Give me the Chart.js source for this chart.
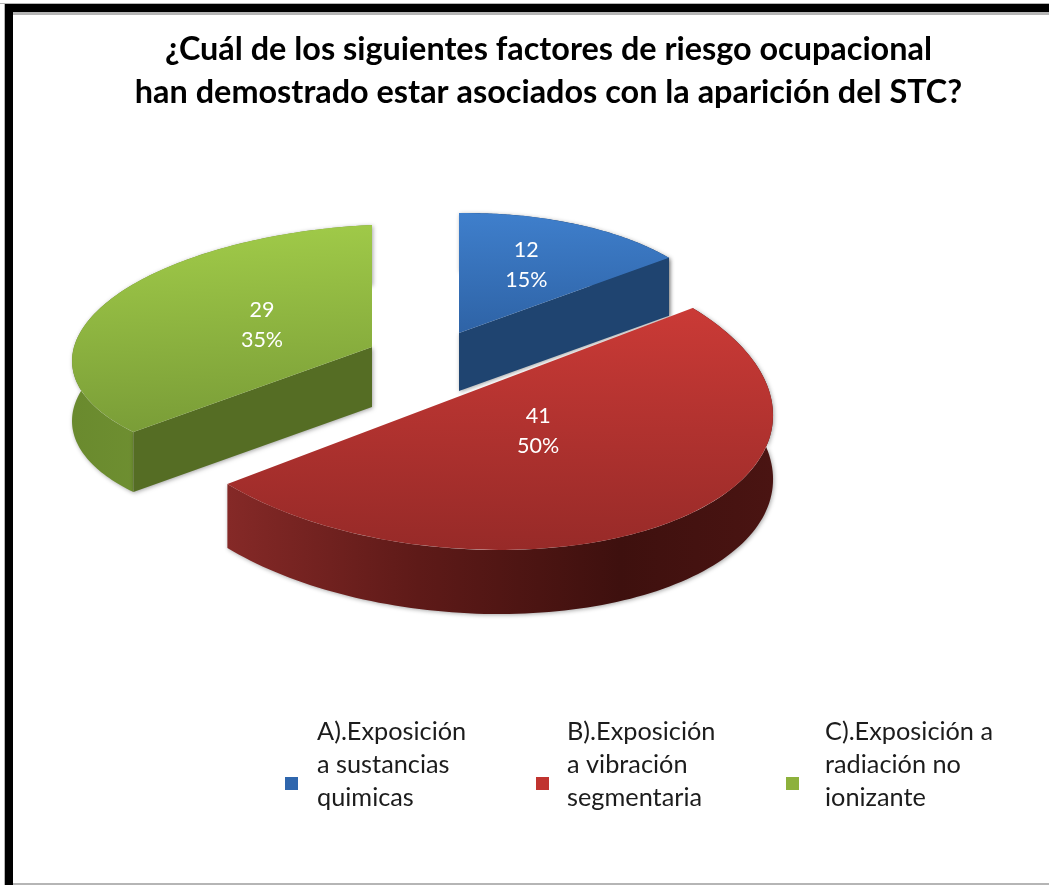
<!DOCTYPE html>
<html><head><meta charset="utf-8">
<script src="https://cdn.jsdelivr.net/npm/chart.js@4"></script>
<style>
html,body{margin:0;padding:0;background:#fff;width:1049px;height:885px;overflow:hidden}
#wrap{position:relative;width:1049px;height:885px}
canvas{position:absolute;left:0;top:0}
.f{position:absolute;background:#000}
.g{position:absolute;background:#b5b5b5}
</style></head><body>
<div id="wrap">
<canvas id="c" width="1049" height="885"></canvas>
<div class="g" style="left:0;top:3px;width:1049px;height:1px"></div>
<div class="f" style="left:5px;top:4px;width:1044px;height:8px"></div>
<div class="g" style="left:13px;top:12px;width:1036px;height:3px"></div>
<div class="g" style="left:4px;top:4px;width:1px;height:881px"></div>
<div class="f" style="left:5px;top:4px;width:8px;height:881px"></div>
<div class="g" style="left:13px;top:883px;width:1036px;height:2px"></div>
</div>
<script>
const titleLines = ["¿Cuál de los siguientes factores de riesgo ocupacional","han demostrado estar asociados con la aparición del STC?"];
const categories = ["A).Exposición a sustancias quimicas","B).Exposición a vibración segmentaria","C).Exposición a radiación no ionizante"];
const legendLines = [["A).Exposición","a sustancias","quimicas"],["B).Exposición","a vibración","segmentaria"],["C).Exposición a","radiación no","ionizante"]];
const values = [12,41,29];
const percents = ["15%","50%","35%"];
const swatch = ["#2f66ad","#c0342f","#8db13c"];

// per-slice projection of the flat pie onto the tilted view (explosion + perspective)
const proj = [
  {c:[459,333],m:[264,0,-3,120],depth:58},
  {c:[460,396],m:[312,25.6,6.7,153.9],depth:64},
  {c:[372,347],m:[300,0,-14,122],depth:60}
];
const topShade = [
  {v:[-1,0],col:["#3f7fcc","#2e63a6"]},
  {v:[-0.6,1],col:["#ca3a36","#972a28"]},
  {v:[-1,0.65],col:["#9fc948","#799c37"]}
];
const faceColor = ["#1f4470","#5a1a18","#556d24"];
const wallStops = [
  [[0,"#2a5a96"],[1,"#1f4470"]],
  [[0,"#852927"],[0.35,"#5e1a18"],[0.72,"#3e100e"],[1,"#4a1412"]],
  [[0,"#6a8a2e"],[1,"#7c9f3a"]]
];
const labelFrac = [0.6,0.33,0.45];
const labelNudge = [[-3,-3],[9,-7],[11,-3]];
const drawOrder = [0,2,1];

function P(i,a,r,dy){
  const p=proj[i],u=Math.cos(a)*r,v=Math.sin(a)*r;
  return [p.c[0]+p.m[0]*u+p.m[1]*v, p.c[1]+p.m[2]*u+p.m[3]*v+(dy||0)];
}
const tilted = {
  id:'tilted',
  beforeDatasetsDraw(chart){
    const ctx=chart.ctx, meta=chart.getDatasetMeta(0);
    drawOrder.forEach(i=>{
      const arc=meta.data[i], s=arc.startAngle, e=arc.endAngle, d=proj[i].depth, R=arc.outerRadius;
      ctx.save();
      ctx.shadowColor='rgba(0,0,0,0.35)';ctx.shadowBlur=4;ctx.shadowOffsetX=1;ctx.shadowOffsetY=1;
      // outer wall
      let minX=1e9,maxX=-1e9;
      const n=120;
      ctx.beginPath();
      for(let k=0;k<=n;k++){const q=P(i,s+(e-s)*k/n,1,0);minX=Math.min(minX,q[0]);maxX=Math.max(maxX,q[0]);k?ctx.lineTo(q[0],q[1]):ctx.moveTo(q[0],q[1]);}
      for(let k=n;k>=0;k--){const q=P(i,s+(e-s)*k/n,1,d);ctx.lineTo(q[0],q[1]);}
      ctx.closePath();
      const wg=ctx.createLinearGradient(minX,0,maxX,0);
      wallStops[i].forEach(t=>wg.addColorStop(t[0],t[1]));
      ctx.fillStyle=wg;ctx.fill();
      // cut faces facing the viewer
      const m=proj[i].m;
      [[s,-1],[e,1]].forEach(([a,sgn])=>{
        const ty=sgn*(-m[2]*Math.sin(a)+m[3]*Math.cos(a));
        if(ty<=0) return;
        const a0=P(i,a,0,0),a1=P(i,a,1,0),a2=P(i,a,1,d),a3=P(i,a,0,d);
        ctx.beginPath();ctx.moveTo(a0[0],a0[1]);ctx.lineTo(a1[0],a1[1]);ctx.lineTo(a2[0],a2[1]);ctx.lineTo(a3[0],a3[1]);ctx.closePath();
        ctx.fillStyle=faceColor[i];ctx.fill();
      });
      ctx.restore();
      // top surface: the library's own arc element under the view transform
      ctx.save();
      ctx.transform(m[0]/R,m[2]/R,m[1]/R,m[3]/R,proj[i].c[0],proj[i].c[1]);
      ctx.translate(-arc.x,-arc.y);
      arc.draw(ctx);
      ctx.restore();
    });
    return false;
  },
  afterDraw(chart){
    const ctx=chart.ctx, meta=chart.getDatasetMeta(0);
    ctx.save();
    ctx.font='21.5px Lato';ctx.fillStyle='#fff';ctx.textAlign='center';ctx.textBaseline='middle';
    meta.data.forEach((arc,i)=>{
      const q=P(i,(arc.startAngle+arc.endAngle)/2,labelFrac[i],0);
      const x=q[0]+labelNudge[i][0], y=q[1]+labelNudge[i][1];
      ctx.fillText(String(values[i]),x,y-15);
      ctx.fillText(percents[i],x,y+15);
    });
    ctx.restore();
    // legend
    ctx.save();
    const lx=[317,567,825], bx=[285,536,786];
    ctx.font='25.3px Lato';ctx.textAlign='left';ctx.textBaseline='middle';
    legendLines.forEach((ls,i)=>{
      ctx.fillStyle='#1c1c1c';
      ls.forEach((t,j)=>ctx.fillText(t,lx[i],732+j*33));
      ctx.fillStyle=swatch[i];ctx.fillRect(bx[i],777,13,13);
    });
    ctx.restore();
  }
};
new Chart(document.getElementById('c'),{
  type:'pie',
  data:{labels:categories,datasets:[{data:values,borderWidth:0,
    backgroundColor(c){
      const area=c.chart.chartArea, i=c.dataIndex;
      if(!area) return swatch[i];
      const cy=(area.top+area.bottom)/2, R=Math.min(area.right-area.left,area.bottom-area.top)/2;
      const t=topShade[i], g=c.chart.ctx.createLinearGradient(0,cy+t.v[0]*R,0,cy+t.v[1]*R);
      g.addColorStop(0,t.col[0]);g.addColorStop(1,t.col[1]);
      return g;
    }}]},
  options:{
    responsive:false,animation:false,
    layout:{padding:{left:48,top:28,right:0,bottom:200}},
    plugins:{
      legend:{display:false},tooltip:{enabled:false},
      title:{display:true,text:titleLines,color:'#000',font:{family:'Lato',size:32.4,weight:'bold',lineHeight:1.32},padding:{top:0,bottom:0}}
    }
  },
  plugins:[tilted]
});
</script>
</body></html>
